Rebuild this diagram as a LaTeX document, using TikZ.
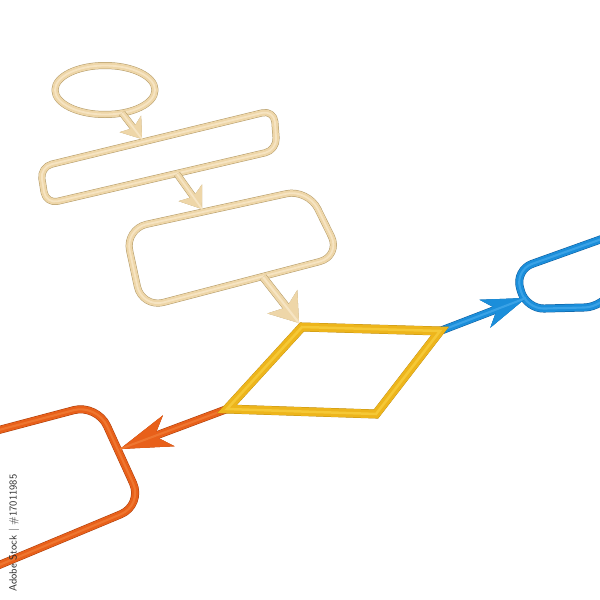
\documentclass[tikz,border=0pt]{standalone}
\usetikzlibrary{arrows.meta}
\definecolor{bgmain}{HTML}{EED6A8}
\definecolor{bgdark}{HTML}{B39A68}
\definecolor{bglight}{HTML}{F6E4C2}
\definecolor{gdmain}{HTML}{EDB51C}
\definecolor{gddark}{HTML}{B0800C}
\definecolor{gdlight}{HTML}{F5C836}
\definecolor{blmain}{HTML}{1B8EDA}
\definecolor{bldark}{HTML}{0E5C9C}
\definecolor{bllight}{HTML}{3AA2E6}
\definecolor{ormain}{HTML}{E8601A}
\definecolor{ordark}{HTML}{A83C0A}
\definecolor{orlight}{HTML}{EE7630}
\definecolor{wmark}{HTML}{2A2A2A}
% #1 colour prefix, #2 width, #3 extra options, #4 path
\newcommand\tubepath[4]{%
  \draw[#1dark, line width=#2pt+1pt, shift={(0,1.2)}, #3] #4;
  \draw[#1main, line width=#2pt, #3] #4;
  \draw[#1light, line width=#2*0.3pt, shift={(0,-#2*0.2)}, #3, -] #4;
}
\tikzset{
  headtip/.style n args={3}{-{Stealth[length=#1pt,width=#2pt,inset=#3pt,line width=0.6pt]}}
}
\begin{document}
\begin{tikzpicture}[x=1pt,y=-1pt,line join=round,line cap=round]
\useasboundingbox (0,0) rectangle (600,600);
\clip (0,0) rectangle (600,600);
\fill[white] (0,0) rectangle (600,600);

% named points
\coordinate (ovalC) at (105,90);
\coordinate (r1TL) at (40,167);  \coordinate (r1TR) at (274,110);
\coordinate (r1BR) at (277,150); \coordinate (r1BL) at (46,204);
\coordinate (r2TL) at (125,229); \coordinate (r2TR) at (308,189);
\coordinate (r2BR) at (341,256); \coordinate (r2BL) at (142,308);
\coordinate (dTL) at (302,327);  \coordinate (dTR) at (440,331);
\coordinate (dBR) at (376,414);  \coordinate (dBL) at (227,409);
\coordinate (oA) at (-20,435);   \coordinate (oTR) at (97,404);
\coordinate (oBR) at (143,505);  \coordinate (oB) at (-20,573);
\coordinate (bA) at (680,211);   \coordinate (bTL) at (515,270);
\coordinate (bBL) at (526,309);  \coordinate (bBR) at (603,307);
\coordinate (bTR) at (650,222);
\coordinate (a1s) at (122,113);  \coordinate (a1t) at (142,139);
\coordinate (a2s) at (177,174);  \coordinate (a2t) at (202,209);
\coordinate (a3s) at (263,277);  \coordinate (a3t) at (299,323);
\coordinate (a4t) at (526,298);
\coordinate (a5t) at (120,449);

% orange box (cut by the left edge)
\tubepath{or}{7}{rounded corners=24}{(oA) -- (oTR) -- (oBR) -- (oB)}
% blue box (cut by the right edge)
\tubepath{bl}{7}{rounded corners=18}{(bA) -- (bTL) -- (bBL) -- (bBR) -- (bTR)}

% beige shapes
\tubepath{bg}{6}{}{(ovalC) ellipse [x radius=50, y radius=24.5]}
\tubepath{bg}{6}{rounded corners=12}{(r1TL) -- (r1TR) -- (r1BR) -- (r1BL) -- cycle}
\tubepath{bg}{6}{rounded corners=22}{(r2TL) -- (r2TR) -- (r2BR) -- (r2BL) -- cycle}

% arrows
\tubepath{bg}{6}{line cap=butt,headtip={19}{27}{5}}{(a1s) -- (a1t)}
\tubepath{bg}{6}{line cap=butt,headtip={20}{29}{5}}{(a2s) -- (a2t)}
\tubepath{bg}{7}{line cap=butt,headtip={27}{38}{7}}{(a3s) -- (a3t)}
\tubepath{bl}{7}{line cap=butt,headtip={44}{30}{13}}{(dTR) -- (a4t)}
\tubepath{or}{7}{line cap=butt,headtip={52}{33}{15}}{(dBL) -- (a5t)}

% decision diamond
\draw[gddark, line width=9pt, line join=miter, shift={(0,2.2)}] (dTL) -- (dTR) -- (dBR) -- (dBL) -- cycle;
\draw[gdmain, line width=8.5pt, line join=miter] (dTL) -- (dTR) -- (dBR) -- (dBL) -- cycle;
\draw[gdlight, line width=2.5pt, line join=miter, shift={(0,-1.8)}] (dTL) -- (dTR) -- (dBR) -- (dBL) -- cycle;

% vertical credit text
\node[rotate=90, text=wmark, font=\sffamily\fontsize{10.5}{10.5}\selectfont, inner sep=0pt] (credit) at (14,533) {Adobe Stock | \#17011985};
\end{tikzpicture}
\end{document}
